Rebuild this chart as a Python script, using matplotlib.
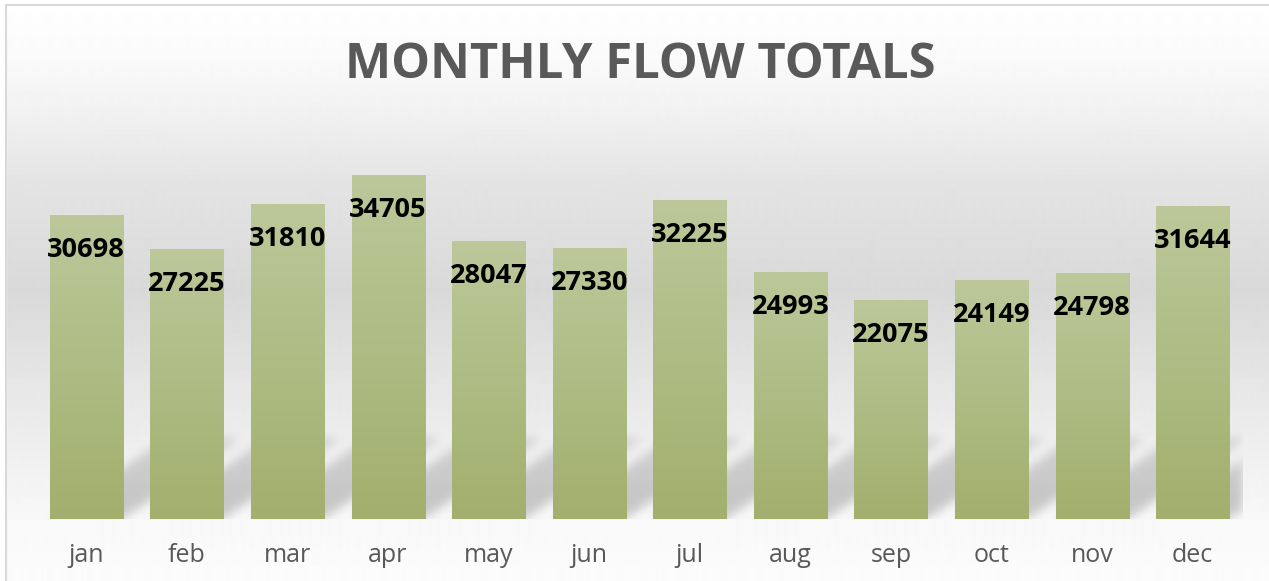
import numpy as np
import matplotlib.pyplot as plt
from matplotlib.colors import to_rgb
from matplotlib.lines import Line2D
from matplotlib.patches import Rectangle

# data
months = ['jan', 'feb', 'mar', 'apr', 'may', 'jun', 'jul', 'aug', 'sep', 'oct', 'nov', 'dec']
flows = [30698, 27225, 31810, 34705, 28047, 27330, 32225, 24993, 22075, 24149, 24798, 31644]
title = 'MONTHLY FLOW TOTALS'

W, H = 1269, 581
FONT = 'Open Sans'
GREY_TEXT = '#595959'
BAR_TOP = '#bcc89a'
BAR_BOTTOM = '#a2af6d'
YMAX = 40000

fig = plt.figure(figsize=(W / 100, H / 100), dpi=100)

# chart background: white -> light grey -> white (vertical)
bg = fig.add_axes([0, 0, 1, 1], zorder=-10)
stop_y = [0, 60, 120, 180, 290, 420, 520, 581]
stop_v = [255, 250, 240, 228, 217, 235, 248, 252]
col = np.interp(np.arange(H), stop_y, stop_v) / 255
bg.imshow(np.repeat(col[:, None], 2, axis=1), cmap='gray', vmin=0, vmax=1,
          aspect='auto', extent=[0, 1, 0, 1], interpolation='bilinear')
bg.set_axis_off()

# white margin + thin chart border (top and left only are visible)
fig.add_artist(Rectangle((0, 0), 6 / W, 1, transform=fig.transFigure, color='white', zorder=-5))
fig.add_artist(Rectangle((0, 1 - 4 / H), 1, 4 / H, transform=fig.transFigure, color='white', zorder=-5))
fig.add_artist(Line2D([6.5 / W, 6.5 / W], [0, 1 - 4.5 / H], transform=fig.transFigure,
                      color='#d9d9d9', lw=1.5))
fig.add_artist(Line2D([6.5 / W, 1], [1 - 4.5 / H, 1 - 4.5 / H], transform=fig.transFigure,
                      color='#d9d9d9', lw=1.5))

fig.text(640 / W, 1 - 77.5 / H, title, ha='center', va='baseline', fontsize=35.3,
         fontweight='bold', color=GREY_TEXT, family=FONT)

ax_w, ax_h = 1207, 396
ax = fig.add_axes([36 / W, (H - 519) / H, ax_w / W, ax_h / H])
ax.patch.set_alpha(0)

xs = np.arange(len(months))
bars = ax.bar(xs, flows, width=0.726, color='none', edgecolor='none', zorder=2)

# per-bar vertical gradient fill
top_c, bot_c = np.array(to_rgb(BAR_TOP)), np.array(to_rgb(BAR_BOTTOM))
t = np.linspace(0, 1, 256)[:, None]
grad = (top_c * (1 - t) + bot_c * t)[:, None, :]
for b in bars:
    x0, w, h = b.get_x(), b.get_width(), b.get_height()
    im = ax.imshow(grad, extent=[x0, x0 + w, 0, h], aspect='auto', zorder=2,
                   interpolation='bilinear')
    im.set_clip_path(b)

# soft skewed shadow cast behind each bar (height capped, fading upward)
px_per_x = ax_w / len(months)
shear = 1.45
shadow_h = 80
pad = 20
gx = np.arange(ax_w)[None, :]
gy = np.arange(-pad, ax_h)[:, None]
mask = np.zeros((ax_h + pad, ax_w))
for b in bars:
    xl = (b.get_x() + 0.5) * px_per_x
    xr = xl + b.get_width() * px_per_x
    inside = (gx >= xl + shear * gy) & (gx <= xr + shear * gy) & (gy >= 0) & (gy <= shadow_h)
    fade = np.clip(1.15 - gy / shadow_h * 0.5, 0, 1) * np.ones_like(gx)
    mask = np.where(inside, np.maximum(mask, fade), mask)

sig = 5.0
k = np.exp(-0.5 * (np.arange(-15, 16) / sig) ** 2)
k /= k.sum()
blur = np.apply_along_axis(lambda r: np.convolve(r, k, mode='same'), 1, mask)
blur = np.apply_along_axis(lambda c: np.convolve(c, k, mode='same'), 0, blur)
blur = blur[pad:]
shadow = np.zeros((ax_h, ax_w, 4))
shadow[..., 3] = 0.19 * np.clip(blur, 0, 1)
ax.imshow(shadow, extent=[-0.5, len(months) - 0.5, 0, YMAX], origin='lower',
          aspect='auto', zorder=1, interpolation='bilinear')

for x, v in zip(xs, flows):
    ax.annotate(f'{v}', (x, v), xytext=(0, -42), textcoords='offset pixels',
                ha='center', va='baseline', fontsize=19.5, fontweight='bold',
                family=FONT, color='black', zorder=5)

ax.set_xlim(-0.5, len(months) - 0.5)
ax.set_ylim(0, YMAX)
ax.set_xticks(xs, months)
ax.set_yticks([])
ax.tick_params(axis='x', length=0, pad=17, labelsize=18, labelcolor=GREY_TEXT)
for lbl in ax.get_xticklabels():
    lbl.set_family(FONT)
for s in ax.spines.values():
    s.set_visible(False)

fig.savefig('out.png', dpi=100)
